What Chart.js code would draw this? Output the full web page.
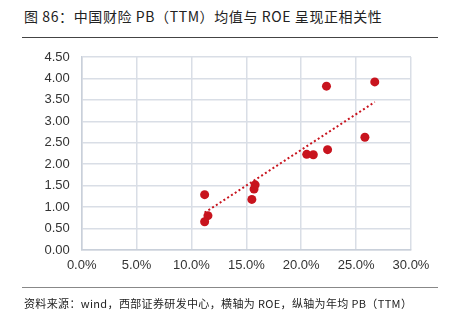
<!DOCTYPE html>
<html>
<head>
<meta charset="utf-8">
<script src="https://cdn.jsdelivr.net/npm/chart.js@4"></script>
<style>
  body { margin: 0; background: #fff; width: 449px; height: 322px; overflow: hidden; position: relative; }
  #title { position: absolute; left: 24px; top: 6px; font: 14px "Noto Sans CJK SC", sans-serif; letter-spacing: 0.6px; color: #222; white-space: nowrap; }
  #rule1 { position: absolute; left: 22px; top: 37px; width: 416px; height: 1px; background: #444; }
  #rule2 { position: absolute; left: 22px; top: 287px; width: 416px; height: 1px; background: #888; }
  #foot { position: absolute; left: 24px; top: 295px; font: 11px "Noto Sans CJK SC", sans-serif; letter-spacing: 0.35px; color: #222; white-space: nowrap; }
  #wrap { position: absolute; left: 0; top: 0; width: 449px; height: 322px; }
</style>
</head>
<body>
<div id="title">图 86：中国财险 PB（TTM）均值与 ROE 呈现正相关性</div>
<div id="rule1"></div>
<div id="wrap"><canvas id="c" width="449" height="322"></canvas></div>
<div id="rule2"></div>
<div id="foot">资料来源：wind，西部证券研发中心，横轴为 ROE，纵轴为年均 PB（TTM）</div>
<script>
// ROE (%) 与 PB (TTM)
const roe = [11.2, 11.5, 11.2, 15.5, 15.7, 15.8, 20.5, 21.1, 22.4, 22.3, 25.8, 26.7];
const pb = [1.29, 0.80, 0.66, 1.18, 1.42, 1.52, 2.23, 2.22, 2.34, 3.82, 2.63, 3.92];
// 趋势线两端
const trendX = [11.2, 26.7];
const trendY = [0.87, 3.45];

const red = '#c8141e';
const grid = '#d9dee6';

new Chart(document.getElementById('c'), {
    type: 'scatter',
    data: {
        datasets: [{
            data: trendX.map((x, i) => ({x: x, y: trendY[i]})),
            showLine: true,
            borderColor: red,
            borderWidth: 2,
            borderDash: [2, 2.5],
            pointRadius: 0,
            fill: false
        }, {
            data: roe.map((x, i) => ({x: x, y: pb[i]})),
            backgroundColor: red,
            borderColor: red,
            pointRadius: 4.5,
            pointBorderWidth: 0
        }]
    },
    options: {
        responsive: false,
        animation: false,
        layout: { padding: { left: 0, top: 57, right: 38, bottom: 50 } },
        plugins: { legend: { display: false }, tooltip: { enabled: false } },
        scales: {
            x: {
                min: 0, max: 30,
                ticks: {
                    stepSize: 5,
                    color: '#333',
                    font: { family: 'Liberation Sans', size: 13 },
                    callback: v => v.toFixed(1) + '%',
                    padding: 8
                },
                grid: { color: grid, lineWidth: 1.5, drawTicks: false },
                border: { color: '#c9d0da', width: 1.5 },
                afterFit: s => { s.height = 22; }
            },
            y: {
                min: 0, max: 4.5,
                ticks: {
                    stepSize: 0.5,
                    color: '#333',
                    font: { family: 'Liberation Sans', size: 13 },
                    callback: v => v.toFixed(2),
                    padding: 12
                },
                grid: { color: grid, lineWidth: 1.5, drawTicks: false },
                border: { color: '#c9d0da', width: 1.5 },
                afterFit: s => { s.width = 81.7; }
            }
        }
    }
});
</script>
</body>
</html>
